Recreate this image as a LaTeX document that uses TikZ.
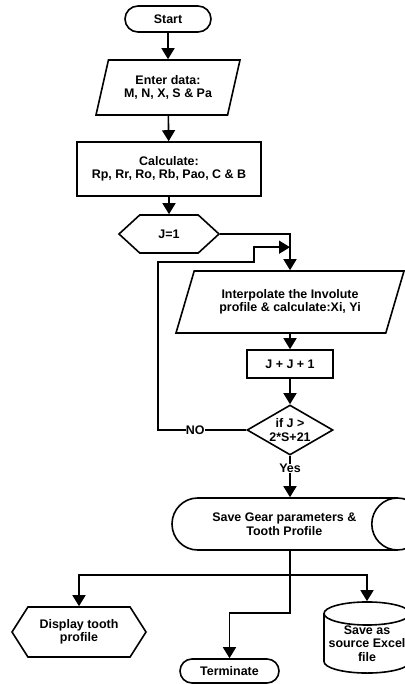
\documentclass[tikz,border=0pt]{standalone}
\usepackage{fontspec}
\setmainfont{Liberation Sans}
\usetikzlibrary{shapes.geometric,shapes.misc,shapes.symbols,arrows.meta}
\tikzset{
    every node/.style={font=\fontsize{12.5}{13.5}\selectfont\bfseries, align=center, inner sep=0pt},
    termbox/.style={draw, rounded rectangle},
    iobox/.style={draw, trapezium, trapezium stretches body},
    procbox/.style={draw, rectangle},
    prepbox/.style={draw, signal, signal to=west and east},
    decbox/.style={draw, diamond, aspect=1.72},
    storebox/.style={draw, cylinder},
    flowarrow/.style={-{Triangle[width=13bp,length=11bp]}}
}
\def\GearChart{
    \node[termbox, minimum width=86bp, minimum height=26bp] (start) at (168,19) {Start};
    \node[iobox, minimum width=144bp, minimum height=55bp, trapezium left angle=63, trapezium right angle=117] (enter) at (168,87.5) {Enter data:\\M, N, X, S \& Pa};
    \node[procbox, minimum width=184bp, minimum height=54bp] (calc) at (169,169) {Calculate:\\Rp, Rr, Ro, Rb, Pao, C \& B};
    \node[prepbox, minimum width=100bp, minimum height=38bp, signal pointer angle=85] (jone) at (169,234) {J=1};
    \node[iobox, minimum width=228bp, minimum height=62bp, trapezium left angle=54, trapezium right angle=126] (interp) at (290,302) {Interpolate the Involute\\profile \& calculate:Xi, Yi};
    \node[procbox, minimum width=86bp, minimum height=28bp] (jinc) at (290,364) {J + J + 1};
    \node[decbox, minimum width=86bp, minimum height=50bp] (test) at (290,430) {if J >\\2*S+21};
    \node[storebox, minimum height=251bp, minimum width=52bp, aspect=2.3, anchor=shape center] (save) at (297.5,524) {Save Gear parameters \&\\Tooth Profile};
    \node[prepbox, minimum width=134bp, minimum height=50bp, signal pointer angle=115] (show) at (79,632) {Display tooth\\profile};
    \node[termbox, minimum width=99bp, minimum height=24bp] (term) at (229.5,671) {Terminate};
    \node[storebox, shape border rotate=90, minimum width=86bp, minimum height=65bp, aspect=0.3, anchor=shape center] (excel) at (367,637.5) {Save as\\source Excel\\file};
}

\begin{document}
\begin{tikzpicture}[x=1bp, y=-1bp, line width=1.6bp]
    \useasboundingbox (0,0) rectangle (404,684);
    \GearChart
    \draw[flowarrow] (start) -- (enter);
    \draw[flowarrow] (enter) -- (calc);
    \draw[flowarrow] (calc) -- (jone);
    \draw[flowarrow] (jone) -| (interp);
    \coordinate (join) at ([yshift=23bp]interp.north);
    \draw[flowarrow] (test.west) -- node[fill=white, pos=0.58]{NO} ++(-88,0) |- ++(96,-168) |- (join);
    \draw[flowarrow] (interp) -- (jinc);
    \draw[flowarrow] (jinc) -- (test);
    \draw[flowarrow] (test) -- node[fill=white, pos=0.3]{Yes} (test.south |- save.north);
    \coordinate (fork) at (290,575);
    \draw (test.south |- save.south) -- (fork);
    \draw[flowarrow] (fork) -| (show);
    \draw[flowarrow] (fork) -| (excel);
    \draw[flowarrow] (fork) -- ++(0,38) -| (term);
\end{tikzpicture}
\end{document}
